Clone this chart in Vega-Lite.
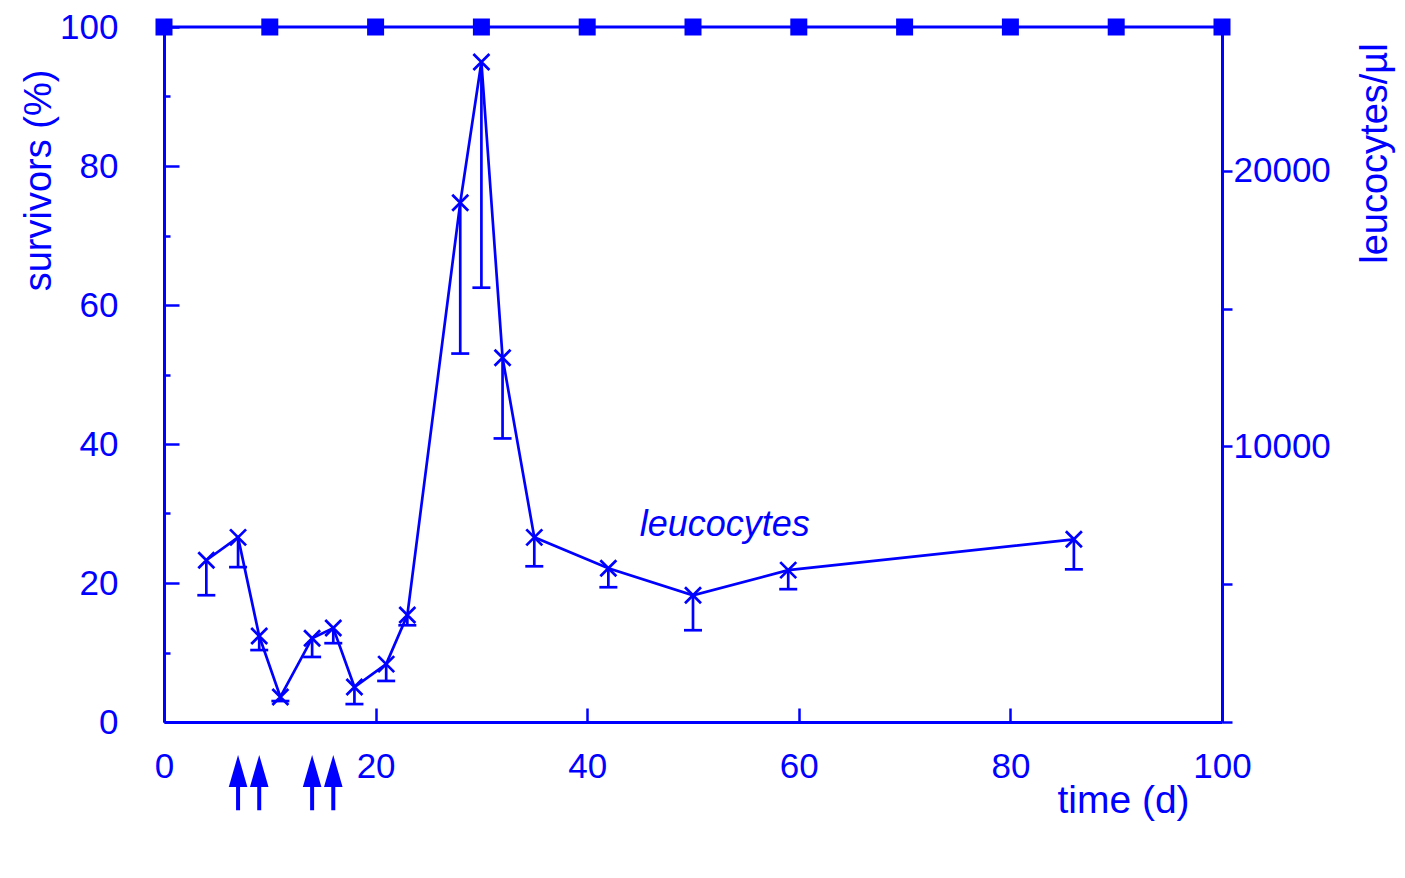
{
  "$schema": "https://vega.github.io/schema/vega-lite/v6.json",
  "width": 1058,
  "height": 695,
  "autosize": "none",
  "padding": {"left": 164, "top": 27, "right": 183, "bottom": 156},
  "background": "white",
  "config": {
    "view": {"stroke": null},
    "font": "Liberation Sans",
    "axis": {
      "domainColor": "#0000ff",
      "domainWidth": 3,
      "tickColor": "#0000ff",
      "tickWidth": 2.5,
      "labelColor": "#0000ff",
      "titleColor": "#0000ff",
      "labelFont": "Liberation Sans",
      "titleFont": "Liberation Sans",
      "labelFontSize": 35,
      "titleFontSize": 38,
      "titleFontWeight": "normal",
      "grid": false
    }
  },
  "datasets": {
    "surv": [
      {"day": 0, "pct": 100}, {"day": 10, "pct": 100}, {"day": 20, "pct": 100},
      {"day": 30, "pct": 100}, {"day": 40, "pct": 100}, {"day": 50, "pct": 100},
      {"day": 60, "pct": 100}, {"day": 70, "pct": 100}, {"day": 80, "pct": 100},
      {"day": 90, "pct": 100}, {"day": 100, "pct": 100}
    ],
    "arrows": [{"day": 7}, {"day": 9}, {"day": 14}, {"day": 16}],
    "leuco": [
      {"day": 4, "val": 5870, "low": 4600},
      {"day": 7, "val": 6700, "low": 5620},
      {"day": 9, "val": 3120, "low": 2610},
      {"day": 11, "val": 910, "low": 760},
      {"day": 14, "val": 3040, "low": 2360},
      {"day": 16, "val": 3410, "low": 2860},
      {"day": 18, "val": 1270, "low": 650},
      {"day": 21, "val": 2100, "low": 1490},
      {"day": 23, "val": 3880, "low": 3510},
      {"day": 28, "val": 18840, "low": 13370},
      {"day": 30, "val": 23950, "low": 15760},
      {"day": 32, "val": 13220, "low": 10290},
      {"day": 35, "val": 6700, "low": 5650},
      {"day": 42, "val": 5580, "low": 4890},
      {"day": 50, "val": 4600, "low": 3330},
      {"day": 59, "val": 5510, "low": 4820},
      {"day": 86, "val": 6630, "low": 5540}
    ]
  },
  "layer": [
    {
      "layer": [
        {
          "data": {"name": "surv"},
          "mark": {"type": "line", "color": "#0000ff", "strokeWidth": 3},
          "encoding": {
            "x": {
              "field": "day", "type": "quantitative",
              "scale": {"domain": [0, 100], "nice": false, "zero": false},
              "axis": {
                "orient": "bottom",
                "values": [0, 20, 40, 60, 80, 100],
                "tickSize": -14,
                "labelPadding": 41,
                "labelFlush": false,
                "labelOverlap": false,
                "title": "time (d)",
                "titleFontSize": 39,
                "titleX": 959,
                "titleY": 78,
                "titleAlign": "center",
                "titleBaseline": "middle",
                "titleAnchor": null
              }
            },
            "y": {
              "field": "pct", "type": "quantitative",
              "scale": {"domain": [0, 100], "nice": false},
              "axis": {
                "orient": "left",
                "values": [0, 10, 20, 30, 40, 50, 60, 70, 80, 90, 100],
                "labelExpr": "datum.value % 20 === 0 ? datum.label : ''",
                "tickSize": {"condition": {"test": "datum.value % 20 === 0", "value": -15}, "value": -6},
                "labelPadding": 61,
                "labelFlush": false,
                "labelOverlap": false,
                "title": "survivors (%)",
                "titleX": -125,
                "titleY": 153,
                "titleAngle": -90,
                "titleAlign": "center",
                "titleBaseline": "middle",
                "titleAnchor": null
              }
            }
          }
        },
        {
          "data": {"name": "surv"},
          "mark": {"type": "point", "shape": "square", "size": 289, "filled": true, "opacity": 1, "color": "#0000ff"},
          "encoding": {
            "x": {"field": "day", "type": "quantitative"},
            "y": {"field": "pct", "type": "quantitative"}
          }
        },
        {
          "data": {"name": "arrows"},
          "mark": {"type": "rule", "color": "#0000ff", "strokeWidth": 4},
          "encoding": {
            "x": {"field": "day", "type": "quantitative"},
            "y": {"datum": -8.5},
            "y2": {"datum": -12.7}
          }
        },
        {
          "data": {"name": "arrows"},
          "mark": {"type": "point", "shape": "M0,-1L0.58,1L-0.58,1Z", "size": 1024, "filled": true, "opacity": 1, "color": "#0000ff"},
          "encoding": {
            "x": {"field": "day", "type": "quantitative"},
            "y": {"datum": -7.05}
          }
        },
        {
          "data": {"values": [{}]},
          "mark": {"type": "text", "color": "#0000ff", "font": "Liberation Sans", "fontSize": 36, "fontStyle": "italic", "align": "center", "baseline": "middle"},
          "encoding": {
            "x": {"datum": 53},
            "y": {"datum": 28.4},
            "text": {"value": "leucocytes"}
          }
        }
      ]
    },
    {
      "layer": [
        {
          "data": {"name": "leuco"},
          "mark": {"type": "line", "color": "#0000ff", "strokeWidth": 2.7},
          "encoding": {
            "x": {"field": "day", "type": "quantitative"},
            "y": {
              "field": "val", "type": "quantitative",
              "scale": {"domain": [0, 25220], "nice": false},
              "axis": {
                "orient": "right",
                "values": [0, 5000, 10000, 15000, 20000],
                "labelExpr": "datum.value % 10000 === 0 && datum.value > 0 ? datum.label : ''",
                "format": "d",
                "tickSize": 10,
                "labelPadding": 1,
                "labelFlush": false,
                "labelOverlap": false,
                "title": "leucocytes/µl",
                "titleX": 153,
                "titleY": 126,
                "titleAngle": -90,
                "titleAlign": "center",
                "titleBaseline": "middle",
                "titleAnchor": null
              }
            }
          }
        },
        {
          "data": {"name": "leuco"},
          "mark": {"type": "rule", "color": "#0000ff", "strokeWidth": 2.7},
          "encoding": {
            "x": {"field": "day", "type": "quantitative"},
            "y": {"field": "val", "type": "quantitative"},
            "y2": {"field": "low"}
          }
        },
        {
          "data": {"name": "leuco"},
          "mark": {"type": "point", "shape": "M-1,0L1,0", "size": 324, "filled": false, "opacity": 1, "color": "#0000ff", "strokeWidth": 2.7},
          "encoding": {
            "x": {"field": "day", "type": "quantitative"},
            "y": {"field": "low", "type": "quantitative"}
          }
        },
        {
          "data": {"name": "leuco"},
          "mark": {"type": "point", "shape": "M-1,-1L1,1M-1,1L1,-1", "size": 256, "filled": false, "opacity": 1, "color": "#0000ff", "strokeWidth": 2.7},
          "encoding": {
            "x": {"field": "day", "type": "quantitative"},
            "y": {"field": "val", "type": "quantitative"}
          }
        }
      ]
    }
  ],
  "resolve": {"scale": {"y": "independent"}}
}
